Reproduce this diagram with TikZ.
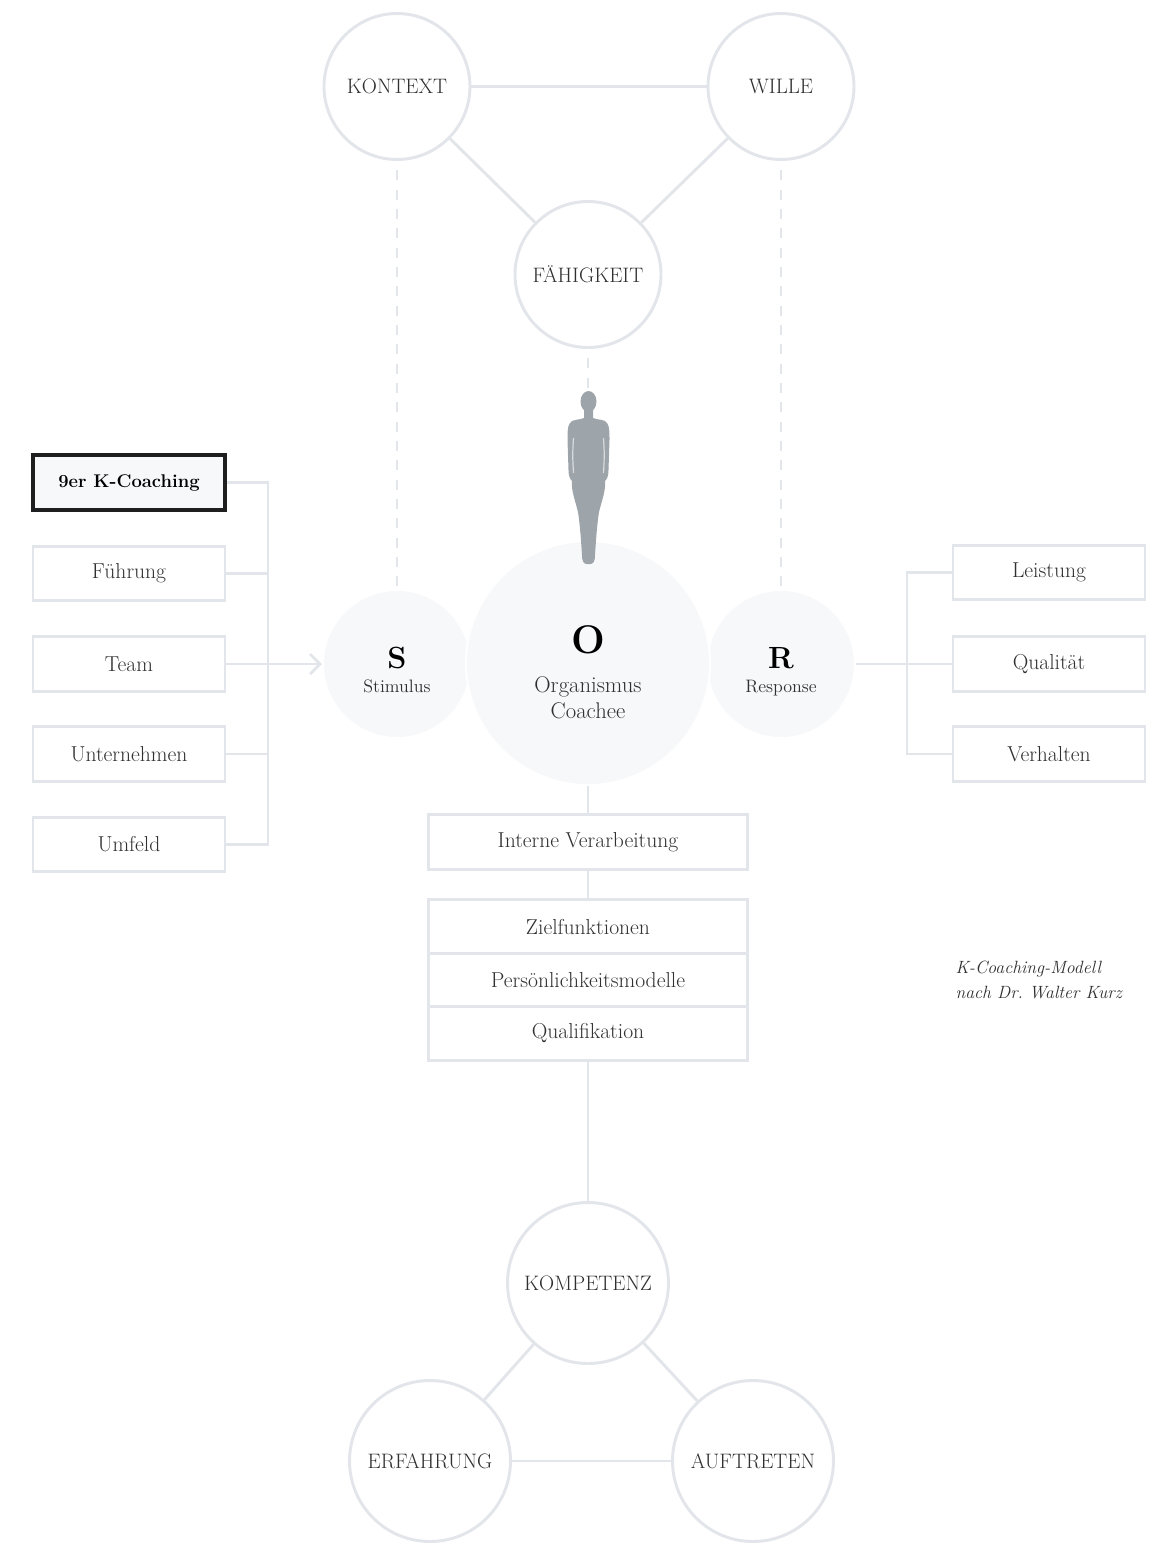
\documentclass[tikz,border=0pt]{standalone}
\usepackage{fontspec}
\setmainfont{Latin Modern Roman}
\usetikzlibrary{arrows.meta}

\definecolor{linegray}{RGB}{226,229,233}
\definecolor{softfill}{RGB}{247,248,250}
\definecolor{inkgray}{RGB}{48,48,48}
\definecolor{figgray}{RGB}{158,165,170}

\newcommand\lblfont{\fontsize{16.2}{19}\selectfont}
\newcommand\capsfont{\fontsize{15.7}{19}\selectfont}
\newcommand\subfont{\fontsize{13.5}{16}\selectfont}
\newcommand\orgfont{\fontsize{17}{20}\selectfont}
\newcommand\notefont{\fontsize{13.3}{16}\selectfont\itshape}
\newcommand\boldlblfont{\fontsize{13.8}{16}\selectfont\bfseries}
\newcommand\letterfont{\fontsize{23}{26}\selectfont\bfseries}
\newcommand\bigletterfont{\fontsize{30}{34}\selectfont\bfseries}

\tikzset{every picture/.style={line width=0.75pt}}
\tikzset{
  conn/.style={draw=linegray, line width=2.2pt},
  dashconn/.style={draw=linegray, line width=1.8pt, dash pattern=on 7.5pt off 7pt},
  ring/.style={circle, draw=linegray, line width=2.2pt, fill=white, inner sep=0pt, minimum size=109.5pt, text=inkgray, font=\capsfont},
  bigring/.style={ring, minimum size=120.75pt},
  disc/.style={circle, fill=softfill, draw=white, line width=1.5pt, inner sep=0pt, minimum size=111pt},
  labelbox/.style={rectangle, draw=linegray, line width=2.2pt, fill=white, inner sep=0pt, minimum width=144pt, minimum height=41pt, text=inkgray, font=\lblfont},
  midbox/.style={labelbox, minimum width=239pt},
}

\begin{document}
\begin{tikzpicture}[x=0.75pt,y=0.75pt,yscale=-1,xscale=1]
\path[use as bounding box] (0,0) rectangle (1161,1543);

%Shape: Circle - top triangle
\node[ring] (kontext) at (397,86.5) {KONTEXT};
\node[ring] (wille) at (781,86.5) {WILLE};
\node[ring] (faehig) at (588,274.5) {FÄHIGKEIT};
%Straight Lines
\draw[conn] (kontext) -- (wille);
\draw[conn] (kontext) -- (faehig);
\draw[conn] (wille) -- (faehig);

%Shape: Circle - S O R
\node[disc] (stim) at (397,664) {};
\node[disc] (resp) at (781,664) {};
\node[disc, minimum size=183pt] (org) at (588,663) {};

%Dashed Lines
\coordinate (figtop) at (588,389);
\draw[dashconn, shorten <=7pt] (kontext) -- (stim);
\draw[dashconn, shorten <=7pt] (wille) -- (resp);
\draw[dashconn, shorten <=7pt] (faehig) -- (figtop);

%Shape: Figure
\fill[figgray] (588.5,401.5) ellipse [x radius=8, y radius=10.5];
\fill[figgray] (584,408) -- (584,418) .. controls (580,420) and (572,419) .. (570,423)
  .. controls (567.5,426) and (567.5,432) .. (567.5,440) -- (568.5,470)
  .. controls (568.5,476) and (570,479) .. (572,481)
  .. controls (571,490) and (575,500) .. (578,512)
  .. controls (580,525) and (581,540) .. (582,555)
  .. controls (582,562) and (584,564) .. (587,564) -- (590,564)
  .. controls (593,564) and (595,562) .. (595,555)
  .. controls (596,540) and (597,525) .. (599,512)
  .. controls (602,500) and (606,490) .. (605,481)
  .. controls (607,479) and (608.5,476) .. (608.5,470) -- (609.5,440)
  .. controls (609.5,432) and (609.5,426) .. (607,423)
  .. controls (605,419) and (597,420) .. (593,418) -- (593,408) -- cycle;
\draw[white, opacity=0.6, line width=0.9pt] (573.5,438) .. controls (572.5,455) .. (573.5,473);
\draw[white, opacity=0.6, line width=0.9pt] (603.5,438) .. controls (604.5,455) .. (603.5,473);

% Text Node
\node[anchor=base, font=\letterfont] (sletter) at (397,668) {S};
\node[anchor=base, font=\subfont, text=inkgray] (stxt) at (397,692) {Stimulus};
\node[anchor=base, font=\bigletterfont] (oletter) at (588,653) {O};
\node[anchor=base, font=\orgfont, text=inkgray] (otxta) at (588,692) {Organismus};
\node[anchor=base, font=\orgfont, text=inkgray] (otxtb) at (588,718) {Coachee};
\node[anchor=base, font=\letterfont] (rletter) at (781,668) {R};
\node[anchor=base, font=\subfont, text=inkgray] (rtxt) at (781,692) {Response};

%Shape: Rectangle - stimulus side
\node[labelbox, draw=black!88, line width=2.8pt, fill=softfill, text=black, font=\boldlblfont] (k9) at (129,482.5) {9er K-Coaching};
\node[labelbox] (fuehrung) at (129,573.5) {Führung};
\node[labelbox] (team) at (129,664) {Team};
\node[labelbox] (unternehmen) at (129,754) {Unternehmen};
\node[labelbox] (umfeld) at (129,844.5) {Umfeld};
\coordinate (brk) at (268,664);
\draw[conn] (k9.east) -- (k9.east -| brk) -- (umfeld.east -| brk) -- (umfeld.east);
\foreach \n in {fuehrung,unternehmen}
  \draw[conn] (\n.east) -- (\n.east -| brk);
\draw[conn, -{Straight Barb[length=7.5pt, width=15pt, line width=2pt]}] (team.east) -- (stim);

%Shape: Rectangle - response side
\node[labelbox] (leistung) at (1049,572.5) {Leistung};
\node[labelbox] (qualitaet) at (1049,664) {Qualität};
\node[labelbox] (verhalten) at (1049,754) {Verhalten};
\coordinate (rbrk) at (907,664);
\draw[conn] (resp) -- (qualitaet);
\draw[conn] (leistung.west) -- (leistung.west -| rbrk) -- (verhalten.west -| rbrk) -- (verhalten.west);

%Shape: Rectangle - organismus
\node[midbox] (intern) at (588,842) {Interne Verarbeitung};
\node[midbox] (ziel) at (588,926.5) {Zielfunktionen};
\node[midbox, minimum height=39pt] (persoenl) at (588,980) {Persönlichkeitsmodelle};
\node[midbox] (quali) at (588,1033.5) {Qualifikation};
\draw[conn] (org) -- (intern);
\draw[conn] (intern) -- (ziel);

%Shape: Circle - bottom triangle
\node[bigring] (kompetenz) at (588,1283) {KOMPETENZ};
\node[bigring] (erfahrung) at (430,1461) {ERFAHRUNG};
\node[bigring] (auftreten) at (753,1461) {AUFTRETEN};
\draw[conn] (quali) -- (kompetenz);
\draw[conn] (kompetenz) -- (erfahrung);
\draw[conn] (kompetenz) -- (auftreten);
\draw[conn] (erfahrung) -- (auftreten);

% Text Node
\node[anchor=base west, inner sep=0pt, font=\notefont, text=inkgray] (capa) at (955,973) {K-Coaching-Modell};
\node[anchor=base west, inner sep=0pt, font=\notefont, text=inkgray] (capb) at (955,998) {nach Dr.\ Walter Kurz};

\end{tikzpicture}
\end{document}
